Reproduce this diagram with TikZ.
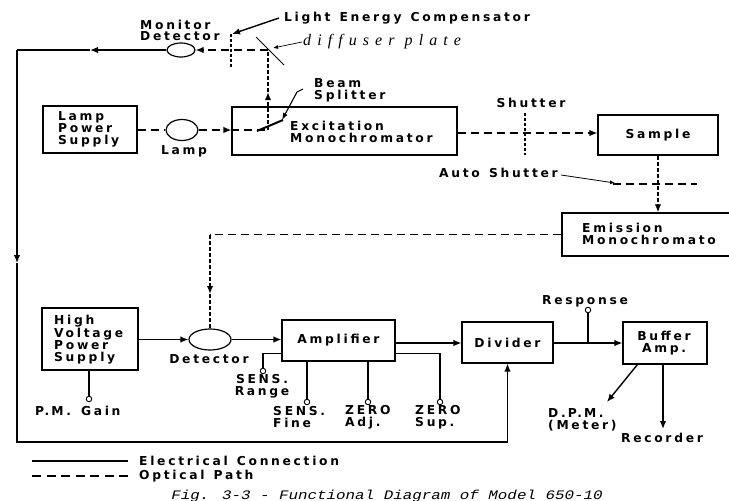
\documentclass[tikz,border=0pt]{standalone}
\usepackage{fontspec}
\newfontfamily\labfont{DejaVu Sans Bold}[LetterSpace=22,WordSpace=1.3]
\newfontfamily\handfont{Liberation Serif Italic}[LetterSpace=38]
\newfontfamily\capfont{Liberation Mono Italic}
\usetikzlibrary{arrows.meta,shapes.geometric,calc}
\begin{document}
\begin{tikzpicture}[x=1pt,y=-1pt,
  font=\labfont\fontsize{12.3}{11.7}\selectfont,
  box/.style={draw,line width=1.1pt,inner sep=0pt},
  lampshape/.style={draw,ellipse,line width=1.2pt,inner sep=0pt},
  elec/.style={line width=1.4pt},
  opt/.style={line width=1.4pt,dash pattern=on 8pt off 5pt},
  optd/.style={line width=1.6pt,dash pattern=on 4pt off 2pt},
  shut/.style={line width=1.8pt,dash pattern=on 3pt off 2pt},
  tip/.style={-{Latex[length=8pt,width=6.5pt]}},
  smalltip/.style={-{Latex[length=5pt,width=4pt]}},
  knob/.style={circle,draw,line width=0.9pt,inner sep=0pt,minimum size=5.5pt,fill=white},
  lbl/.style={inner sep=0pt,align=left},
  lblc/.style={inner sep=0pt,align=center},
]
\useasboundingbox (0,0) rectangle (729,501);
\clip (0,0) rectangle (729,501);

% ---------- boxes ----------
\node[box,minimum width=94pt,minimum height=47pt] (lps) at (90,129.5) {};
\node[box,minimum width=225pt,minimum height=48pt] (exc) at (344.5,131) {};
\node[box,minimum width=120pt,minimum height=40pt] (sample) at (658,135) {Sample};
\node[box,minimum width=200pt,minimum height=43pt] (emis) at (662,234.5) {};
\node[box,minimum width=96pt,minimum height=62pt] (hv) at (90,339) {};
\node[box,minimum width=113pt,minimum height=41pt] (amp) at (338.5,340.5) {Amplifier};
\node[box,minimum width=91pt,minimum height=41pt] (div) at (507.5,342.5) {Divider};
\node[box,minimum width=84pt,minimum height=42pt] (buf) at (665,343) {};

% ---------- texts in boxes ----------
\node[lbl,anchor=west] (lpst) at (58,129.5) {Lamp\\Power\\Supply};
\node[lbl,anchor=west] (exct) at (290,132) {Excitation\\Monochromator};
\node[lbl,anchor=west] (emist) at (582,234) {Emission\\Monochromato};
\node[lbl,anchor=west] (hvt) at (54,339.5) {High\\Voltage\\Power\\Supply};
\node[lblc] (buft) at (664,343) {Buffer\\Amp.};

% ---------- detectors / lamp ----------
\node[lampshape,minimum width=28pt,minimum height=14pt] (mon) at (181,50) {};
\node[lampshape,minimum width=32pt,minimum height=21pt] (lampe) at (182,130) {};
\node[lampshape,minimum width=42pt,minimum height=21pt] (det) at (210,339.5) {};

% ---------- labels ----------
\node[lbl,anchor=west] (mont) at (140,30.5) {Monitor\\Detector};
\node[lbl,anchor=west] (lec) at (284,18) {Light Energy Compensator};
\node[anchor=west,inner sep=0pt,font=\handfont\fontsize{16}{16}\selectfont] (diff) at (303,42) {diffuser plate};
\node[lbl,anchor=west] (bst) at (314,90) {Beam\\Splitter};
\node[lblc] (lampt) at (184,151) {Lamp};
\node[lblc] (shutt) at (531,103) {Shutter};
\node[lbl,anchor=west] (autot) at (439,173) {Auto Shutter};
\node[lblc] (dett) at (209,359) {Detector};
\node[lblc] (respt) at (585,301) {Response};
\node[lbl,anchor=west] (pmt) at (35,411) {P.\,M.\hspace{10pt}Gain};
\node[lblc] (srt) at (262,386) {SENS.\\Range};
\node[lbl,anchor=west] (sft) at (273,417) {SENS.\\Fine};
\node[lbl,anchor=west] (zat) at (345,417) {ZERO\\Adj.};
\node[lbl,anchor=west] (zst) at (415,417) {ZERO\\Sup.};
\node[lbl,anchor=west] (dpmt) at (548,419.5) {D.\,P.\,M.\\(Meter)};
\node[lblc] (rect) at (662,438) {Recorder};

% ---------- coordinates ----------
\coordinate (tl) at (17,50);
\coordinate (bl) at (17,442);
\coordinate (a1) at (90,50);
\coordinate (a2) at (17,263);
\coordinate (dp) at (268,50);
\coordinate (bsp) at (268,130);
\coordinate (a3) at (268,92);
\coordinate (sh) at (525,133);
\coordinate (c4) at (210,234.5);
\coordinate (a4) at (210,294);
\coordinate (s1) at (0,343);
\coordinate (xrec) at (663,0);
\coordinate (rtip) at (663,429);
\coordinate (dtip) at (607,402);

% ---------- electrical loop ----------
\draw[elec,tip] (mon.west) -- (a1);
\draw[elec] (a1) -- (tl);
\draw[elec,tip] (tl) -- (a2);
\draw[elec,tip] (a2) -- (bl) -| (div.south);

% ---------- top optics ----------
\draw[opt,tip] (dp) -- (mon.east);
\draw[shut] (231,34) -- (231,67);
\draw[elec,tip] ($(lec.west)+(-5,0)$) -- (232,34);
\draw[line width=1pt] (256,37) -- (284,65);
\draw[line width=0.7pt,smalltip] ($(diff.west)+(-1,0)$) -- (273,48);
\draw[optd,tip] (bsp) -- (a3);
\draw[optd] (a3) -- (dp);
\draw[line width=2pt] (257,131) -- (283,120);
\draw[line width=1.1pt,-{Latex[length=7pt,width=5pt]}] ($(bst.west)+(-11,-1)$) -- ($(bst.west)+(-17,2)$) -- (282,120);

\draw[opt] (lps.east |- lampe) -- (lampe.west);
\draw[opt,tip] (lampe.east) -- (lampe -| exc.west);
\draw[opt] (lampe -| exc.west) -- (bsp);

\draw[opt,tip] (sh -| exc.east) -- (sh -| sample.west);
\draw[shut] (525,113) -- (525,155);

\draw[optd,tip] (sample.south) -- (sample.south |- emis.north);
\draw[opt] (613,184) -- (697,184);
\draw[line width=0.8pt,smalltip] ($(autot.east)+(3,2)$) -- (615,183);

\draw[opt] (emis.west) -- (c4);
\draw[optd,tip] (c4) -- (a4);
\draw[optd] (a4) -- (det.north);

% ---------- signal chain ----------
\draw[elec,tip] (hv.east |- det.west) -- (det.west);
\draw[elec,tip] (det.east) -- (det.east -| amp.west);
\draw[elec,tip] (amp.east |- s1) -- (div.west |- s1);
\draw[elec,tip] (div.east |- s1) -- (buf.west |- s1);

\node[knob] (kresp) at (588,310) {};
\draw[elec] (kresp.south) -- (kresp |- s1);

\node[knob] (kpm) at (89,399) {};
\node[knob] (kr) at (263,371) {};
\node[knob] (kf) at (307,402) {};
\node[knob] (kz) at (368,402) {};
\node[knob] (ks) at (440,402) {};
\draw[elec] (kpm.north) -- (kpm |- hv.south);
\draw[elec] ($(amp.south west)+(0,-8)$) -| (kr.north);
\draw[elec] (kf.north) -- (kf |- amp.south);
\draw[elec] (kz.north) -- (kz |- amp.south);
\draw[elec] ($(amp.south east)+(0,-8)$) -| (ks.north);

\draw[elec,tip] ($(buf.south west)+(15,0)$) -- (dtip);
\draw[elec,tip] (xrec |- buf.south) -- (rtip);

% ---------- legend ----------
\coordinate (l1a) at (32,461);
\coordinate (l1b) at (128,461);
\coordinate (l2a) at (32,476);
\coordinate (l2b) at (128,476);
\draw[elec] (l1a) -- (l1b);
\draw[line width=1.4pt,dash pattern=on 9pt off 5.5pt] (l2a) -- (l2b);
\node[lbl,anchor=west] (l1t) at (139,461) {Electrical Connection};
\node[lbl,anchor=west] (l2t) at (139,476) {Optical Path};

% ---------- caption ----------
\node[inner sep=0pt,font=\capfont\fontsize{13}{13}\selectfont] (cap) at (387,496) {\scalebox{1.22}[1]{Fig. 3-3 - Functional Diagram of Model 650-10}};
\end{tikzpicture}
\end{document}
